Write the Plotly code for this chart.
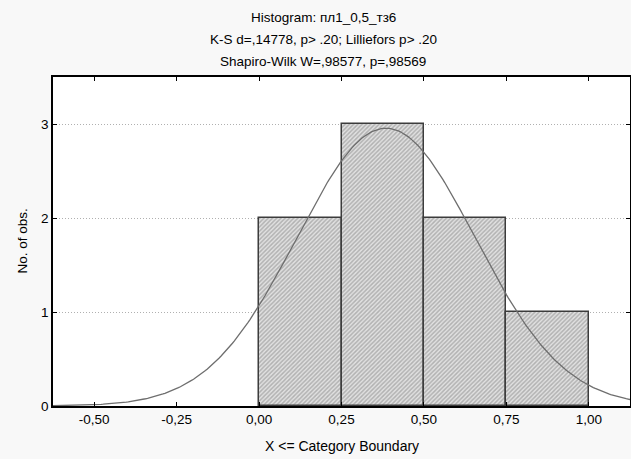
import numpy as np
import plotly.graph_objects as go

# Data
bin_left = [0.00, 0.25, 0.50, 0.75]
bin_width = 0.25
counts = [2, 3, 2, 1]
fit_mean = 0.385
fit_sd = 0.27
n_obs = 8
x_ticks = [-0.50, -0.25, 0.00, 0.25, 0.50, 0.75, 1.00]
x_tick_labels = ["-0,50", "-0,25", "0,00", "0,25", "0,50", "0,75", "1,00"]
y_ticks = [0, 1, 2, 3]
title_lines = [
    "Histogram: пл1_0,5_тз6",
    "K-S d=,14778, p> .20; Lilliefors p> .20",
    "Shapiro-Wilk W=,98577, p=,98569",
]

centers = [b + bin_width / 2 for b in bin_left]
xc = np.linspace(-0.625, 1.125, 300)
yc = n_obs * bin_width / (fit_sd * np.sqrt(2 * np.pi)) * np.exp(-0.5 * ((xc - fit_mean) / fit_sd) ** 2)

fig = go.Figure()
fig.add_trace(go.Bar(
    x=centers, y=counts, width=[bin_width] * len(counts),
    marker=dict(
        color="#cccccc",
        line=dict(color="#3c3c3c", width=1.5),
        pattern=dict(shape="/", fgcolor="#808080", bgcolor="#e2e2e2", size=3, solidity=0.5),
    ),
    hoverinfo="skip", showlegend=False,
))
fig.add_trace(go.Scatter(
    x=xc, y=yc, mode="lines",
    line=dict(color="#6e6e6e", width=1.3),
    hoverinfo="skip", showlegend=False,
))

font_family = "Liberation Sans, Arial, sans-serif"
annotations = []
for i, t in enumerate(title_lines):
    annotations.append(dict(
        text=t, xref="paper", yref="paper", x=0.468, y=1,
        xanchor="center", yanchor="middle", yshift=60 - 22 * i,
        showarrow=False, font=dict(size=13.5, color="#000000", family=font_family),
    ))
annotations.append(dict(
    text="X <= Category Boundary", xref="paper", yref="paper", x=0.5, y=0,
    xanchor="center", yanchor="middle", yshift=-40,
    showarrow=False, font=dict(size=14, color="#000000", family=font_family),
))
annotations.append(dict(
    text="No. of obs.", xref="paper", yref="paper", x=0, y=0.5,
    xanchor="center", yanchor="middle", xshift=-31, textangle=-90,
    showarrow=False, font=dict(size=13.5, color="#000000", family=font_family),
))

fig.update_layout(
    width=631, height=459,
    margin=dict(l=53, r=1, t=77, b=53),
    paper_bgcolor="#f8f8f8",
    plot_bgcolor="#ffffff",
    font=dict(family=font_family, size=13.5, color="#000000"),
    bargap=0,
    annotations=annotations,
    xaxis=dict(
        range=[-0.625, 1.125],
        tickvals=x_ticks, ticktext=x_tick_labels,
        ticks="inside", ticklen=4, tickcolor="#000000",
        showline=True, linecolor="#000000", linewidth=1.5, mirror="ticks",
        showgrid=False, zeroline=False, automargin=False,
        tickfont=dict(size=13.5),
    ),
    yaxis=dict(
        range=[0, 3.5],
        tickvals=y_ticks,
        ticks="inside", ticklen=4, tickcolor="#000000",
        showline=True, linecolor="#000000", linewidth=1.5, mirror="ticks",
        showgrid=True, gridcolor="#b0b0b0", griddash="1px,2px", gridwidth=1,
        zeroline=False, automargin=False,
        tickfont=dict(size=13.5),
    ),
)

fig.write_html(
    "out.html",
    config={"displayModeBar": False},
    post_script="document.body.style.margin='0';document.body.style.overflow='hidden';",
)
